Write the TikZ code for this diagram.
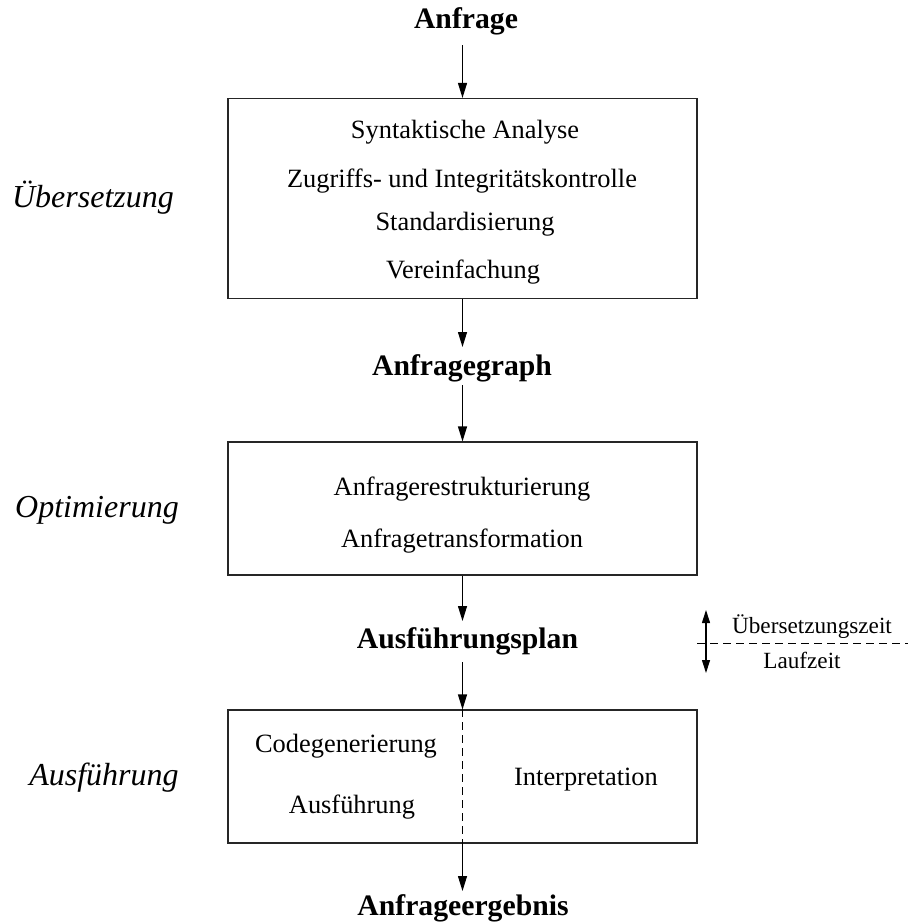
\documentclass[tikz,border=0pt]{standalone}
\usepackage{fontspec}
\setmainfont{Liberation Serif}
\usetikzlibrary{arrows.meta}
\begin{document}
\begin{tikzpicture}[x=1pt,y=-1pt,
  txt/.style={inner sep=0pt,anchor=base,font=\fontsize{26.4}{30}\selectfont},
  bold/.style={inner sep=0pt,anchor=base,font=\fontsize{29.7}{34}\selectfont\bfseries},
  phase/.style={inner sep=0pt,anchor=base,font=\fontsize{32}{36}\selectfont\itshape},
  small/.style={inner sep=0pt,anchor=base,font=\fontsize{23.2}{27}\selectfont},
  stage/.style={draw=black!85,line width=1.1pt,rectangle,inner sep=0pt,minimum width=469pt},
  arr/.style={line width=1.1pt,-{Triangle[length=15pt,width=9pt]}},
  darr/.style={line width=1.1pt,{Triangle[length=13pt,width=8pt]}-{Triangle[length=13pt,width=8pt]}},
  sep/.style={line width=1pt,dash pattern=on 8pt off 5pt}]
\useasboundingbox (0,0) rectangle (908,924);

% boxes
\node[stage,minimum height=200pt] (box1) at (462.5,198.5) {};
\node[stage,minimum height=133pt] (box2) at (462.5,508.5) {};
\node[stage,minimum height=133pt] (box3) at (462.5,776.5) {};

% bold stage results
\node[bold] (anfrage) at (466,28) {Anfrage};
\node[bold] (graph) at (462,375) {Anfragegraph};
\node[bold] (plan) at (467.5,648) {Ausführungsplan};
\node[bold] (ergebnis) at (463,915) {Anfrageergebnis};

% box contents
\node[txt] (t11) at (465,138) {Syntaktische Analyse};
\node[txt] (t12) at (462,187) {Zugriffs- und Integritätskontrolle};
\node[txt] (t13) at (465,230) {Standardisierung};
\node[txt] (t14) at (463,278) {Vereinfachung};
\node[txt] (t21) at (462,495) {Anfragerestrukturierung};
\node[txt] (t22) at (462,547) {Anfragetransformation};
\node[txt] (t31) at (346,752) {Codegenerierung};
\node[txt] (t32) at (352,813) {Ausführung};
\node[txt] (t33) at (586,785) {Interpretation};

% phase labels
\node[phase] (p1) at (93,207) {Übersetzung};
\node[phase] (p2) at (97,517) {Optimierung};
\node[phase] (p3) at (104,785) {Ausführung};

% arrows
\draw[arr,shorten <=17pt] (anfrage.base -| box1.north) -- (box1.north);
\draw[arr,shorten >=28pt] (box1.south) -- (graph.base -| box1.south);
\draw[arr,shorten <=10pt] (graph.base -| box2.north) -- (box2.north);
\draw[arr,shorten >=27pt] (box2.south) -- (plan.base -| box2.south);
\draw[arr,shorten <=14pt] (plan.base -| box3.north) -- (box3.north);
\draw[arr,shorten >=24pt] (box3.south) -- (ergebnis.base -| box3.south);

% divider inside execution box
\draw[sep] (box3.north) -- (box3.south);

% compile time / run time marker
\coordinate (tz1) at (706,610);
\coordinate (tz2) at (706,673);
\coordinate (dl1) at (697,643);
\coordinate (dl2) at (908,643);
\draw[darr] (tz1) -- (tz2);
\draw[sep] (dl1) -- (dl2);
\node[small] (uz) at (812,633) {Übersetzungszeit};
\node[small] (lz) at (802,668) {Laufzeit};
\end{tikzpicture}
\end{document}
